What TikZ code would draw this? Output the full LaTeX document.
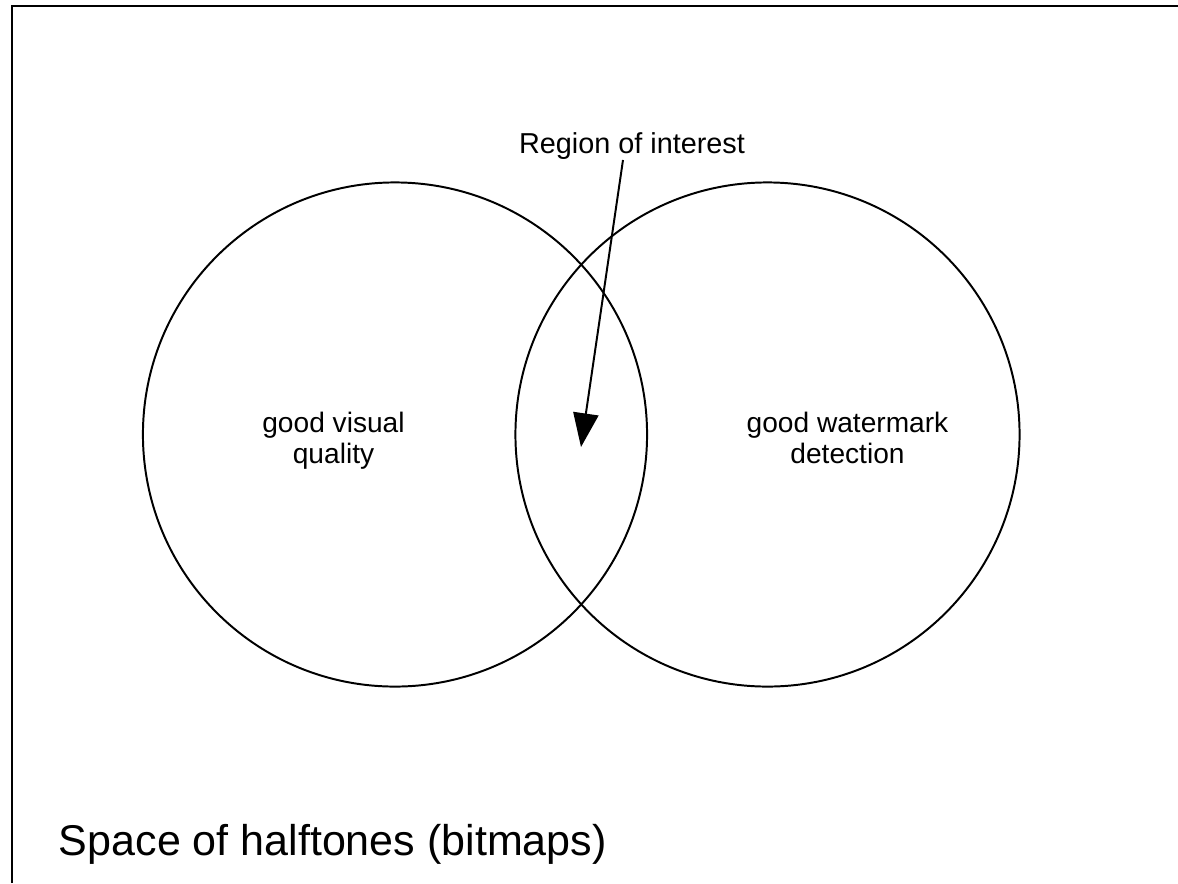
\documentclass[tikz,border=0pt]{standalone}
\usepackage{fontspec}
\setmainfont{Liberation Sans}
\usetikzlibrary{arrows.meta, calc}

\begin{document}
\begin{tikzpicture}[x=0.025cm, y=-0.025cm, line width=1.4pt,
				      >={Triangle[length=24pt, width=18pt]},
				      region/.style={circle, draw, minimum size=12.6cm, inner sep=0pt},
				      label/.style={align=center, inner sep=0pt,
				        font=\fontsize{20}{22}\selectfont}]
			      \useasboundingbox (0,0) rectangle (1178,883);
			      \draw[line width=2pt] (12,883) -- (12,6) -- (1178,6);

			      \node[region] (visual) at (395,434.5) {};
			      \node[region] (watermark) at (767.5,434.5) {};

			      \node[label, anchor=base] (quality) at (333.5,463) {good visual\\quality};
			      \node[label, anchor=base] (detection) at (847.5,463) {good watermark\\detection};
			      \node[inner sep=0pt, anchor=base, font=\fontsize{20.5}{24}\selectfont]
				      (interest) at (632,153) {Region of interest};
			      \coordinate (tip) at (581,447);

			      \node[inner sep=0pt, anchor=base west, font=\fontsize{30.6}{36}\selectfont]
				      (space) at (58,855) {Space of halftones (bitmaps)};

			      \draw[->] ($(interest.south)+(-9,0)$) -- (tip);
		      \end{tikzpicture}
\end{document}
